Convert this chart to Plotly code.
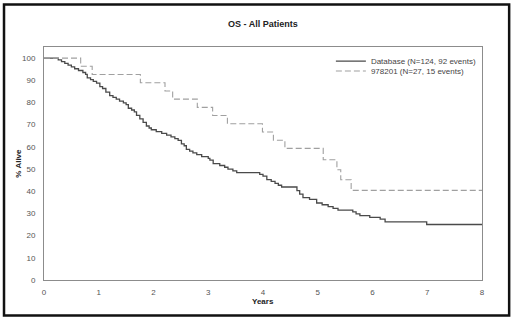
import plotly.graph_objects as go

# Database curve (N=124, 92 events) - KM step points
db_years = [0, 0.26, 0.32, 0.38, 0.44, 0.50, 0.56, 0.63, 0.71, 0.76, 0.79, 0.85, 0.90, 0.96,
            1.02, 1.07, 1.13, 1.20, 1.26, 1.32, 1.38, 1.45, 1.50, 1.54, 1.60, 1.65, 1.69, 1.75,
            1.81, 1.87, 1.92, 1.96, 2.05, 2.15, 2.24, 2.32, 2.39, 2.45, 2.51, 2.56, 2.60, 2.66,
            2.72, 2.79, 2.88, 3.00, 3.03, 3.09, 3.21, 3.30, 3.36, 3.45, 3.52, 3.94, 4.00, 4.07,
            4.15, 4.22, 4.28, 4.34, 4.62, 4.67, 4.73, 4.85, 4.98, 5.08, 5.19, 5.28, 5.37, 5.64,
            5.70, 5.77, 5.95, 6.14, 6.23, 6.99, 8.0]
db_alive = [100, 99.2, 98.4, 97.6, 96.8, 96.0, 95.2, 94.4, 93.5, 92.7, 91.1, 90.3, 89.5, 88.7,
            87.1, 86.3, 84.7, 83.1, 82.3, 81.5, 80.6, 79.8, 79.0, 77.4, 76.6, 75.8, 74.2, 72.6,
            71.0, 69.4, 68.5, 67.7, 66.9, 66.1, 65.3, 64.5, 63.7, 62.9, 61.3, 60.5, 58.9, 58.1,
            57.3, 56.5, 55.6, 54.8, 54.0, 52.4, 51.6, 50.8, 50.0, 49.2, 48.4, 47.6, 46.8, 45.2,
            44.4, 43.5, 42.7, 41.9, 40.3, 38.7, 37.1, 36.3, 34.7, 33.9, 33.1, 32.3, 31.5, 30.7,
            29.8, 29.0, 28.2, 27.4, 26.2, 25.0, 25.0]

# Study 978201 (N=27, 15 events)
st_years = [0, 0.67, 0.88, 1.76, 2.21, 2.35, 2.80, 3.08, 3.35, 3.99, 4.19, 4.40, 5.10, 5.35,
            5.42, 5.61, 8.0]
st_alive = [100, 96.3, 92.6, 88.9, 85.2, 81.5, 77.8, 74.1, 70.4, 66.7, 63.0, 59.3, 54.2, 49.7,
            45.2, 40.4, 40.4]

series_names = ["Database (N=124, 92 events)", "978201 (N=27, 15 events)"]
x_ticks = [0, 1, 2, 3, 4, 5, 6, 7, 8]
y_ticks = [0, 10, 20, 30, 40, 50, 60, 70, 80, 90, 100]

FONT = "Liberation Sans, Arial, sans-serif"

fig = go.Figure()
fig.add_trace(go.Scatter(x=db_years, y=db_alive, mode="lines", line_shape="hv",
                         line=dict(color="#4a4a4a", width=1.3), name=series_names[0],
                         legend="legend"))
fig.add_trace(go.Scatter(x=st_years, y=st_alive, mode="lines", line_shape="hv",
                         line=dict(color="#a0a0a0", width=1.1, dash="6px,3px"),
                         name=series_names[1], legend="legend2"))

leg_common = dict(xanchor="left", yanchor="top", bgcolor="rgba(255,255,255,0)",
                  font=dict(size=8, color="#444"), itemwidth=30)

fig.update_layout(
    width=520, height=322,
    margin=dict(l=44, r=38, t=47, b=42),
    paper_bgcolor="white", plot_bgcolor="white",
    font=dict(family=FONT, size=8, color="#444"),
    showlegend=True,
    legend=dict(x=0.655, y=1.002, **leg_common),
    legend2=dict(x=0.655, y=0.959, **leg_common),
    xaxis=dict(range=[0, 8], tickvals=x_ticks, showgrid=False, zeroline=False,
               showline=True, linecolor="#8c8c8c", linewidth=1, mirror=True,
               ticks="", ticklabelstandoff=4, tickfont=dict(size=8, color="#555")),
    yaxis=dict(range=[0, 105], tickvals=y_ticks, showgrid=False, zeroline=False,
               showline=True, linecolor="#8c8c8c", linewidth=1, mirror=True,
               ticks="", ticklabelstandoff=6, tickfont=dict(size=8, color="#555")),
    annotations=[
        dict(text="<b>OS - All Patients</b>", xref="paper", yref="paper", x=0.5, y=1.099,
             showarrow=False, font=dict(size=9, color="#222"), xanchor="center", yanchor="middle"),
        dict(text="<b>Years</b>", xref="paper", yref="paper", x=0.5, y=-0.094,
             showarrow=False, font=dict(size=8, color="#222"), xanchor="center", yanchor="middle"),
        dict(text="<b>% Alive</b>", xref="paper", yref="paper", x=-0.059, y=0.5,
             showarrow=False, textangle=-90, font=dict(size=8, color="#222"),
             xanchor="center", yanchor="middle"),
    ],
    shapes=[
        dict(type="rect", xref="paper", yref="paper", x0=-0.0913, x1=1.062, y0=-0.152, y1=1.182,
             line=dict(color="#111", width=2.5), fillcolor="rgba(0,0,0,0)"),
    ],
)

fig.write_html("out.html", config={"displayModeBar": False},
               post_script="document.body.style.margin='0px';document.body.style.overflow='hidden';")
